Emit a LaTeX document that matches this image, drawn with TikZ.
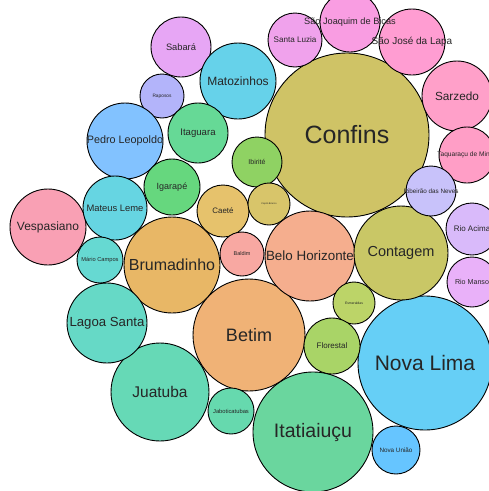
\documentclass[tikz,border=0pt]{standalone}
\usepackage{fontspec}
\setmainfont{Liberation Sans}
\begin{document}
% circle: #1 name, #2 x, #3 y, #4 radius, #5 fill
\newcommand{\bubbleat}[5]{%
  \node[bubble, minimum size=#4*2pt, fill=#5] (#1) at (#2,#3) {};}
% label on top of a circle: #1 name, #2 font size, #3 text
\newcommand{\bubblelabel}[3]{%
  \node[bubtext, font=\fontsize{#2}{#2}\selectfont] at (#1.center) {#3};}
\begin{tikzpicture}[x=1pt,y=-1pt,
  bubble/.style={circle, draw=black, line width=0.9pt, inner sep=0pt},
  bubtext/.style={text=black!85, inner sep=0pt}]
\useasboundingbox (0,0) rectangle (489,491);
\clip (0,0) rectangle (489,491);
\definecolor{cConfins}{HTML}{CFC366}
\definecolor{cNovaLima}{HTML}{66CFF6}
\definecolor{cItatiaiucu}{HTML}{6AD69E}
\definecolor{cBetim}{HTML}{F0B276}
\definecolor{cJuatuba}{HTML}{66D9B6}
\definecolor{cBrumadinho}{HTML}{E8B766}
\definecolor{cBH}{HTML}{F5AE8E}
\definecolor{cContagem}{HTML}{C9C766}
\definecolor{cLagoaSanta}{HTML}{66D9C6}
\definecolor{cVespasiano}{HTML}{F9A0B4}
\definecolor{cSarzedo}{HTML}{FFA0C9}
\definecolor{cSJLapa}{HTML}{FF9DD2}
\definecolor{cSJBicas}{HTML}{F99DE2}
\definecolor{cSantaLuzia}{HTML}{F0A2EC}
\definecolor{cSabara}{HTML}{E7A6F5}
\definecolor{cRaposos}{HTML}{B3B4FA}
\definecolor{cPedro}{HTML}{82C2FF}
\definecolor{cMatozinhos}{HTML}{66D2EA}
\definecolor{cMateus}{HTML}{66D5E2}
\definecolor{cMario}{HTML}{66D9D2}
\definecolor{cItaguara}{HTML}{66D996}
\definecolor{cIgarape}{HTML}{66D77E}
\definecolor{cIbirite}{HTML}{8FD263}
\definecolor{cCaete}{HTML}{E6C26C}
\definecolor{cCapim}{HTML}{D8C56A}
\definecolor{cBaldim}{HTML}{F8A8A2}
\definecolor{cEsmeraldas}{HTML}{BCD468}
\definecolor{cFlorestal}{HTML}{A9D467}
\definecolor{cJabotica}{HTML}{66D9AE}
\definecolor{cNovaUniao}{HTML}{66C5FF}
\definecolor{cTaquaracu}{HTML}{FF9EC6}
\definecolor{cRibeirao}{HTML}{C8C2FA}
\definecolor{cRioAcima}{HTML}{D9BAFA}
\definecolor{cRioManso}{HTML}{E9B1F9}

% circles
\bubbleat{confins}{347}{135}{82}{cConfins}
\bubbleat{novalima}{425}{363}{67}{cNovaLima}
\bubbleat{itatiaiucu}{313}{432}{60}{cItatiaiucu}
\bubbleat{betim}{249}{335}{56}{cBetim}
\bubbleat{juatuba}{160}{392}{49}{cJuatuba}
\bubbleat{brumadinho}{172}{265}{48}{cBrumadinho}
\bubbleat{bh}{310}{256}{45}{cBH}
\bubbleat{contagem}{401}{253}{47}{cContagem}
\bubbleat{lagoasanta}{107}{323}{40}{cLagoaSanta}
\bubbleat{vespasiano}{48}{227}{38}{cVespasiano}
\bubbleat{sarzedo}{457}{96}{35}{cSarzedo}
\bubbleat{sjlapa}{412}{42}{33}{cSJLapa}
\bubbleat{sjbicas}{350}{22}{30}{cSJBicas}
\bubbleat{santaluzia}{295}{40}{27}{cSantaLuzia}
\bubbleat{sabara}{181}{47}{30}{cSabara}
\bubbleat{raposos}{162}{96}{22}{cRaposos}
\bubbleat{pedro}{125}{141}{38}{cPedro}
\bubbleat{matozinhos}{238}{81}{38}{cMatozinhos}
\bubbleat{mateus}{115}{208}{32}{cMateus}
\bubbleat{mario}{100}{260}{23}{cMario}
\bubbleat{itaguara}{198}{133}{30}{cItaguara}
\bubbleat{igarape}{172}{187}{28}{cIgarape}
\bubbleat{ibirite}{257}{162}{25}{cIbirite}
\bubbleat{caete}{223}{211}{26}{cCaete}
\bubbleat{capim}{269}{204}{21}{cCapim}
\bubbleat{baldim}{242}{254}{22}{cBaldim}
\bubbleat{esmeraldas}{354}{303}{21}{cEsmeraldas}
\bubbleat{florestal}{332}{346}{28}{cFlorestal}
\bubbleat{jabotica}{231}{411}{23}{cJabotica}
\bubbleat{novauniao}{396}{450}{24}{cNovaUniao}
\bubbleat{taquaracu}{467}{155}{28}{cTaquaracu}
\bubbleat{ribeirao}{431}{191}{25}{cRibeirao}
\bubbleat{rioacima}{472}{229}{26}{cRioAcima}
\bubbleat{riomanso}{472}{282}{25}{cRioManso}

% labels, drawn over every circle
\bubblelabel{confins}{25}{Confins}
\bubblelabel{novalima}{21}{Nova Lima}
\bubblelabel{itatiaiucu}{19.5}{Itatiaiuçu}
\bubblelabel{betim}{18}{Betim}
\bubblelabel{juatuba}{15.5}{Juatuba}
\bubblelabel{brumadinho}{16}{Brumadinho}
\bubblelabel{bh}{13.4}{Belo Horizonte}
\bubblelabel{contagem}{14.5}{Contagem}
\bubblelabel{lagoasanta}{13.2}{Lagoa Santa}
\bubblelabel{vespasiano}{12}{Vespasiano}
\bubblelabel{sarzedo}{11.8}{Sarzedo}
\bubblelabel{sjlapa}{10}{São José da Lapa}
\bubblelabel{sjbicas}{9.2}{São Joaquim de Bicas}
\bubblelabel{santaluzia}{8.1}{Santa Luzia}
\bubblelabel{sabara}{9.3}{Sabará}
\bubblelabel{raposos}{4.8}{Raposos}
\bubblelabel{pedro}{10.8}{Pedro Leopoldo}
\bubblelabel{matozinhos}{12}{Matozinhos}
\bubblelabel{mateus}{9.4}{Mateus Leme}
\bubblelabel{mario}{5.7}{Mário Campos}
\bubblelabel{itaguara}{9.6}{Itaguara}
\bubblelabel{igarape}{9}{Igarapé}
\bubblelabel{ibirite}{7}{Ibirité}
\bubblelabel{caete}{7.9}{Caeté}
\bubblelabel{capim}{2.4}{Capim Branco}
\bubblelabel{baldim}{5.5}{Baldim}
\bubblelabel{esmeraldas}{3.4}{Esmeraldas}
\bubblelabel{florestal}{8}{Florestal}
\bubblelabel{jabotica}{5.8}{Jaboticatubas}
\bubblelabel{novauniao}{6.3}{Nova União}
\bubblelabel{taquaracu}{6.6}{Taquaraçu de Minas}
\bubblelabel{ribeirao}{6.3}{Ribeirão das Neves}
\bubblelabel{rioacima}{8}{Rio Acima}
\bubblelabel{riomanso}{7.1}{Rio Manso}
\end{tikzpicture}
\end{document}
